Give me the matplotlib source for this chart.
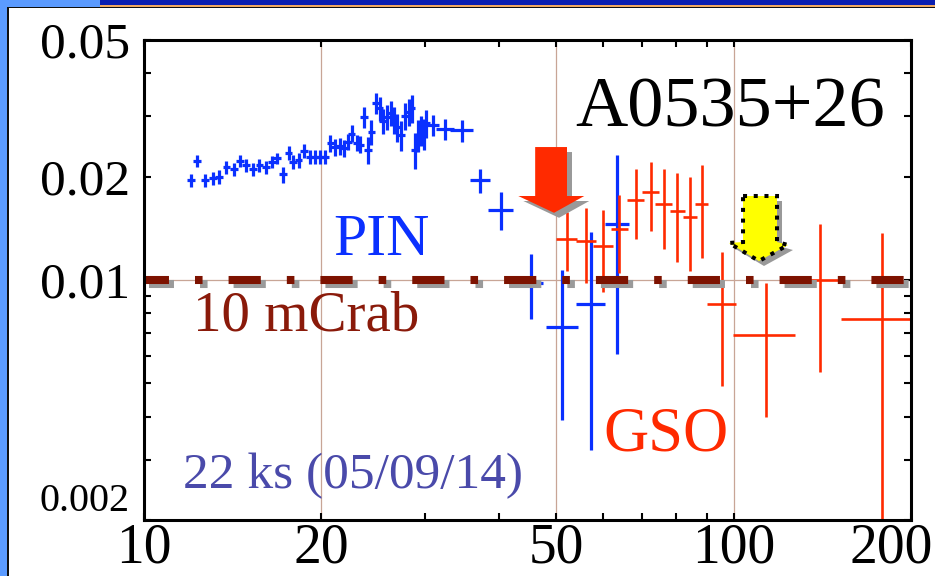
import matplotlib
matplotlib.use('Agg')
import matplotlib.pyplot as plt
import matplotlib.patheffects as pe
import matplotlib.transforms as mtransforms
from matplotlib.patches import Polygon, Rectangle
from matplotlib.ticker import NullFormatter

plt.rcParams['font.family'] = ['Liberation Serif', 'DejaVu Serif']

# PIN spectrum (keV, flux)
pin_e = [12.0, 12.3, 12.7, 13.1, 13.4, 13.8, 14.2, 14.55, 14.9, 15.3,
         15.7, 16.1, 16.5, 16.8, 17.2, 17.6, 17.9, 18.3, 18.7, 19.1,
         19.5, 19.9, 20.3, 20.7, 21.1, 21.5, 21.8, 22.2, 22.5, 22.95,
         23.25, 23.6, 24.0, 24.3, 24.75, 25.1, 25.4, 25.8, 26.2, 26.55,
         26.9, 27.3, 27.7, 28.1, 28.45, 28.8, 29.2, 29.5, 29.8, 30.1,
         30.95, 32.4, 34.6, 37.15, 40.3, 45.3, 51.2, 57.3, 63.5]
pin_f = [0.0195, 0.0222, 0.0195, 0.0198, 0.0200, 0.0213, 0.0210, 0.0222, 0.0216, 0.0210,
         0.0216, 0.0213, 0.0221, 0.0226, 0.0203, 0.0235, 0.0221, 0.0223, 0.0238, 0.0228,
         0.0228, 0.0228, 0.0228, 0.0250, 0.0244, 0.0245, 0.0242, 0.0253, 0.0267, 0.0251,
         0.0248, 0.0299, 0.0239, 0.0270, 0.0328, 0.0316, 0.0291, 0.0299, 0.0306, 0.0292,
         0.0279, 0.0264, 0.0300, 0.0309, 0.0316, 0.0239, 0.0264, 0.0273, 0.0267, 0.0286,
         0.0283, 0.0275, 0.0273, 0.0195, 0.0160, 0.0098, 0.0073, 0.0085, 0.0146]
pin_ferr = [0.0009, 0.0009, 0.0009, 0.0009, 0.0009, 0.0009, 0.0009, 0.0009, 0.0009, 0.0009,
            0.0009, 0.0009, 0.0009, 0.0009, 0.0011, 0.0011, 0.0011, 0.0011, 0.0011, 0.0011,
            0.0011, 0.0011, 0.0011, 0.0014, 0.0014, 0.0014, 0.0014, 0.0014, 0.0015, 0.0014,
            0.0014, 0.0021, 0.0022, 0.0022, 0.0023, 0.0025, 0.0024, 0.0025, 0.0026, 0.0026,
            0.0026, 0.0027, 0.0027, 0.0028, 0.0030, 0.0029, 0.0028, 0.0028, 0.0028, 0.0027,
            0.0020, 0.0020, 0.0020, 0.0016, 0.0020, 0.0021, 0.0034, 0.0053, 0.0085]
pin_eerr = [0.19, 0.19, 0.2, 0.2, 0.2, 0.21, 0.22, 0.22, 0.23, 0.23,
            0.24, 0.24, 0.25, 0.25, 0.26, 0.26, 0.27, 0.27, 0.28, 0.28,
            0.29, 0.29, 0.3, 0.3, 0.31, 0.31, 0.32, 0.32, 0.33, 0.33,
            0.34, 0.34, 0.35, 0.35, 0.36, 0.36, 0.37, 0.37, 0.38, 0.38,
            0.39, 0.39, 0.4, 0.4, 0.41, 0.41, 0.42, 0.42, 0.43, 0.43,
            0.7, 1.1, 1.5, 1.45, 2.0, 2.3, 3.2, 3.2, 3.0]

# GSO spectrum
gso_e = [52.1, 56.2, 60.1, 64.0, 68.3, 72.4, 76.2, 80.3, 84.4, 88.3, 95.5, 113.5, 140.0, 178.4]
gso_f = [0.0132, 0.0130, 0.0126, 0.0141, 0.0171, 0.0180, 0.0167, 0.0159, 0.0153, 0.0166,
         0.0085, 0.0069, 0.0100, 0.0077]
gso_ferr = [0.0026, 0.0032, 0.0034, 0.0036, 0.0039, 0.0041, 0.0044, 0.0046, 0.0047, 0.0050,
            0.0036, 0.0029, 0.0046, 0.0060]
gso_eerr = [2.1, 2.2, 2.4, 2.1, 2.3, 2.4, 2.5, 2.4, 2.4, 2.3, 5.4, 13.6, 12.5, 26.0]

mcrab_level = 0.01
grid_x = [20, 50, 100]
x_ticks = [10, 20, 50, 100, 200]
x_minor = [30, 40, 60, 70, 80, 90]
y_ticks = [0.002, 0.01, 0.02, 0.05]
y_labels = ['0.002', '0.01', '0.02', '0.05']
y_minor = [0.003, 0.004, 0.005, 0.006, 0.007, 0.008, 0.009, 0.03, 0.04]

blue = '#0a30ff'
red = '#ff2a00'
dark_red = '#7d1200'

fig = plt.figure(figsize=(9.35, 5.76), dpi=100)
fig.patch.set_facecolor('white')

# slide frame
fig.add_artist(Rectangle((0, 0), 7 / 935, 1, transform=fig.transFigure, color='#5b9bff', lw=0))
fig.add_artist(Rectangle((0, 1 - 7 / 576), 100 / 935, 7 / 576, transform=fig.transFigure, color='#5b9bff', lw=0))
fig.add_artist(Rectangle((100 / 935, 1 - 5 / 576), 835 / 935, 5 / 576, transform=fig.transFigure, color='#0a1eb0', lw=0))
fig.add_artist(Rectangle((100 / 935, 1 - 6.5 / 576), 835 / 935, 1.5 / 576, transform=fig.transFigure, color='#f0a860', lw=0))
fig.add_artist(Rectangle((7 / 935, 1 - 8 / 576), 928 / 935, 1.5 / 576, transform=fig.transFigure, color='#101010', lw=0))
fig.add_artist(Rectangle((7 / 935, 0), 1.6 / 935, 1 - 7 / 576, transform=fig.transFigure, color='#101010', lw=0))

ax = fig.add_axes([144 / 935, 56 / 576, 767 / 935, 480 / 576])
ax.set_xscale('log')
ax.set_yscale('log')
ax.set_xlim(10, 200)
ax.set_ylim(0.002, 0.05)

for gx in grid_x:
    ax.axvline(gx, color='#c8a596', lw=0.9, zorder=0)
ax.axhline(mcrab_level, color='#c8a596', lw=0.9, zorder=0)

ax.errorbar(pin_e, pin_f, xerr=pin_eerr, yerr=pin_ferr, fmt='none',
            ecolor=blue, elinewidth=2.3, capsize=0, zorder=2)
ax.errorbar(gso_e, gso_f, xerr=gso_eerr, yerr=gso_ferr, fmt='none',
            ecolor=red, elinewidth=1.9, capsize=0, zorder=2)

# 10 mCrab level
ax.plot([10, 200], [mcrab_level, mcrab_level], color=dark_red, lw=5.8,
        linestyle=(0.9, (4, 3.23, 0.94, 3.23)), dash_capstyle='butt',
        path_effects=[pe.SimpleLineShadow(offset=(3.6, -3), shadow_color='#9a9a9a', alpha=1),
                      pe.Normal()], zorder=4)

# arrows (axes fraction)
red_arrow = [(0.510, 0.777), (0.5515, 0.777), (0.5515, 0.675), (0.574, 0.675),
             (0.5346, 0.640), (0.488, 0.675), (0.510, 0.675)]
ax.add_patch(Polygon(red_arrow, closed=True, transform=ax.transAxes, facecolor=red,
                     edgecolor='none', zorder=6,
                     path_effects=[pe.SimplePatchShadow(offset=(3.6, -3.6), shadow_rgbFace='#999999', alpha=1),
                                   pe.Normal()]))
yellow_arrow = [(0.781, 0.675), (0.8253, 0.675), (0.8253, 0.5792), (0.8396, 0.5729),
                (0.8018, 0.5396), (0.7627, 0.5771), (0.781, 0.5792)]
ax.add_patch(Polygon(yellow_arrow, closed=True, transform=ax.transAxes, facecolor='#ffff00',
                     edgecolor='black', lw=2.9, linestyle=(0, (1, 1.66)), zorder=6,
                     path_effects=[pe.SimplePatchShadow(offset=(3.6, -3.6), shadow_rgbFace='#999999', alpha=1),
                                   pe.Normal()]))

# labels
ax.text(0.5619, 0.8188, 'A0535+26', transform=ax.transAxes, fontsize=52, color='black', va='baseline', zorder=7)
ax.text(0.2464, 0.5521, 'PIN', transform=ax.transAxes, fontsize=43, color=blue, va='baseline', zorder=7)
ax.text(0.0639, 0.3958, '10 mCrab', transform=ax.transAxes, fontsize=41, color='#8a1a0a', va='baseline', zorder=7)
ax.text(0.5984, 0.1458, 'GSO', transform=ax.transAxes, fontsize=45, color=red, va='baseline', zorder=7)
ax.text(0.0508, 0.0667, '22 ks (05/09/14)', transform=ax.transAxes, fontsize=37, color='#4a4aaa', va='baseline', zorder=7)

# axes and ticks
for sp in ax.spines.values():
    sp.set_linewidth(2.2)
    sp.set_zorder(8)
ax.set_xticks(x_ticks)
ax.set_xticklabels([str(t) for t in x_ticks])
ax.set_xticks(x_minor, minor=True)
ax.xaxis.set_minor_formatter(NullFormatter())
ax.set_yticks(y_ticks)
ax.set_yticklabels(y_labels)
ax.set_yticks(y_minor, minor=True)
ax.yaxis.set_minor_formatter(NullFormatter())
ax.tick_params(which='both', direction='in', top=True, right=True, length=5, width=1.5, color='black')
ax.tick_params(axis='x', which='major', labelsize=40, pad=2)
ax.tick_params(axis='y', which='major', labelsize=37, pad=10)
for lbl in ax.get_yticklabels():
    if lbl.get_text() == '0.002':
        lbl.set_fontsize(29)
        lbl.set_va('bottom')
# keep the last x label inside the picture
shift = mtransforms.ScaledTranslation(-20 / 100, 0, fig.dpi_scale_trans)
for tick in ax.xaxis.get_major_ticks():
    if tick.label1.get_text() == '200':
        tick.label1.set_transform(tick.label1.get_transform() + shift)

fig.savefig('out.png', dpi=100)
